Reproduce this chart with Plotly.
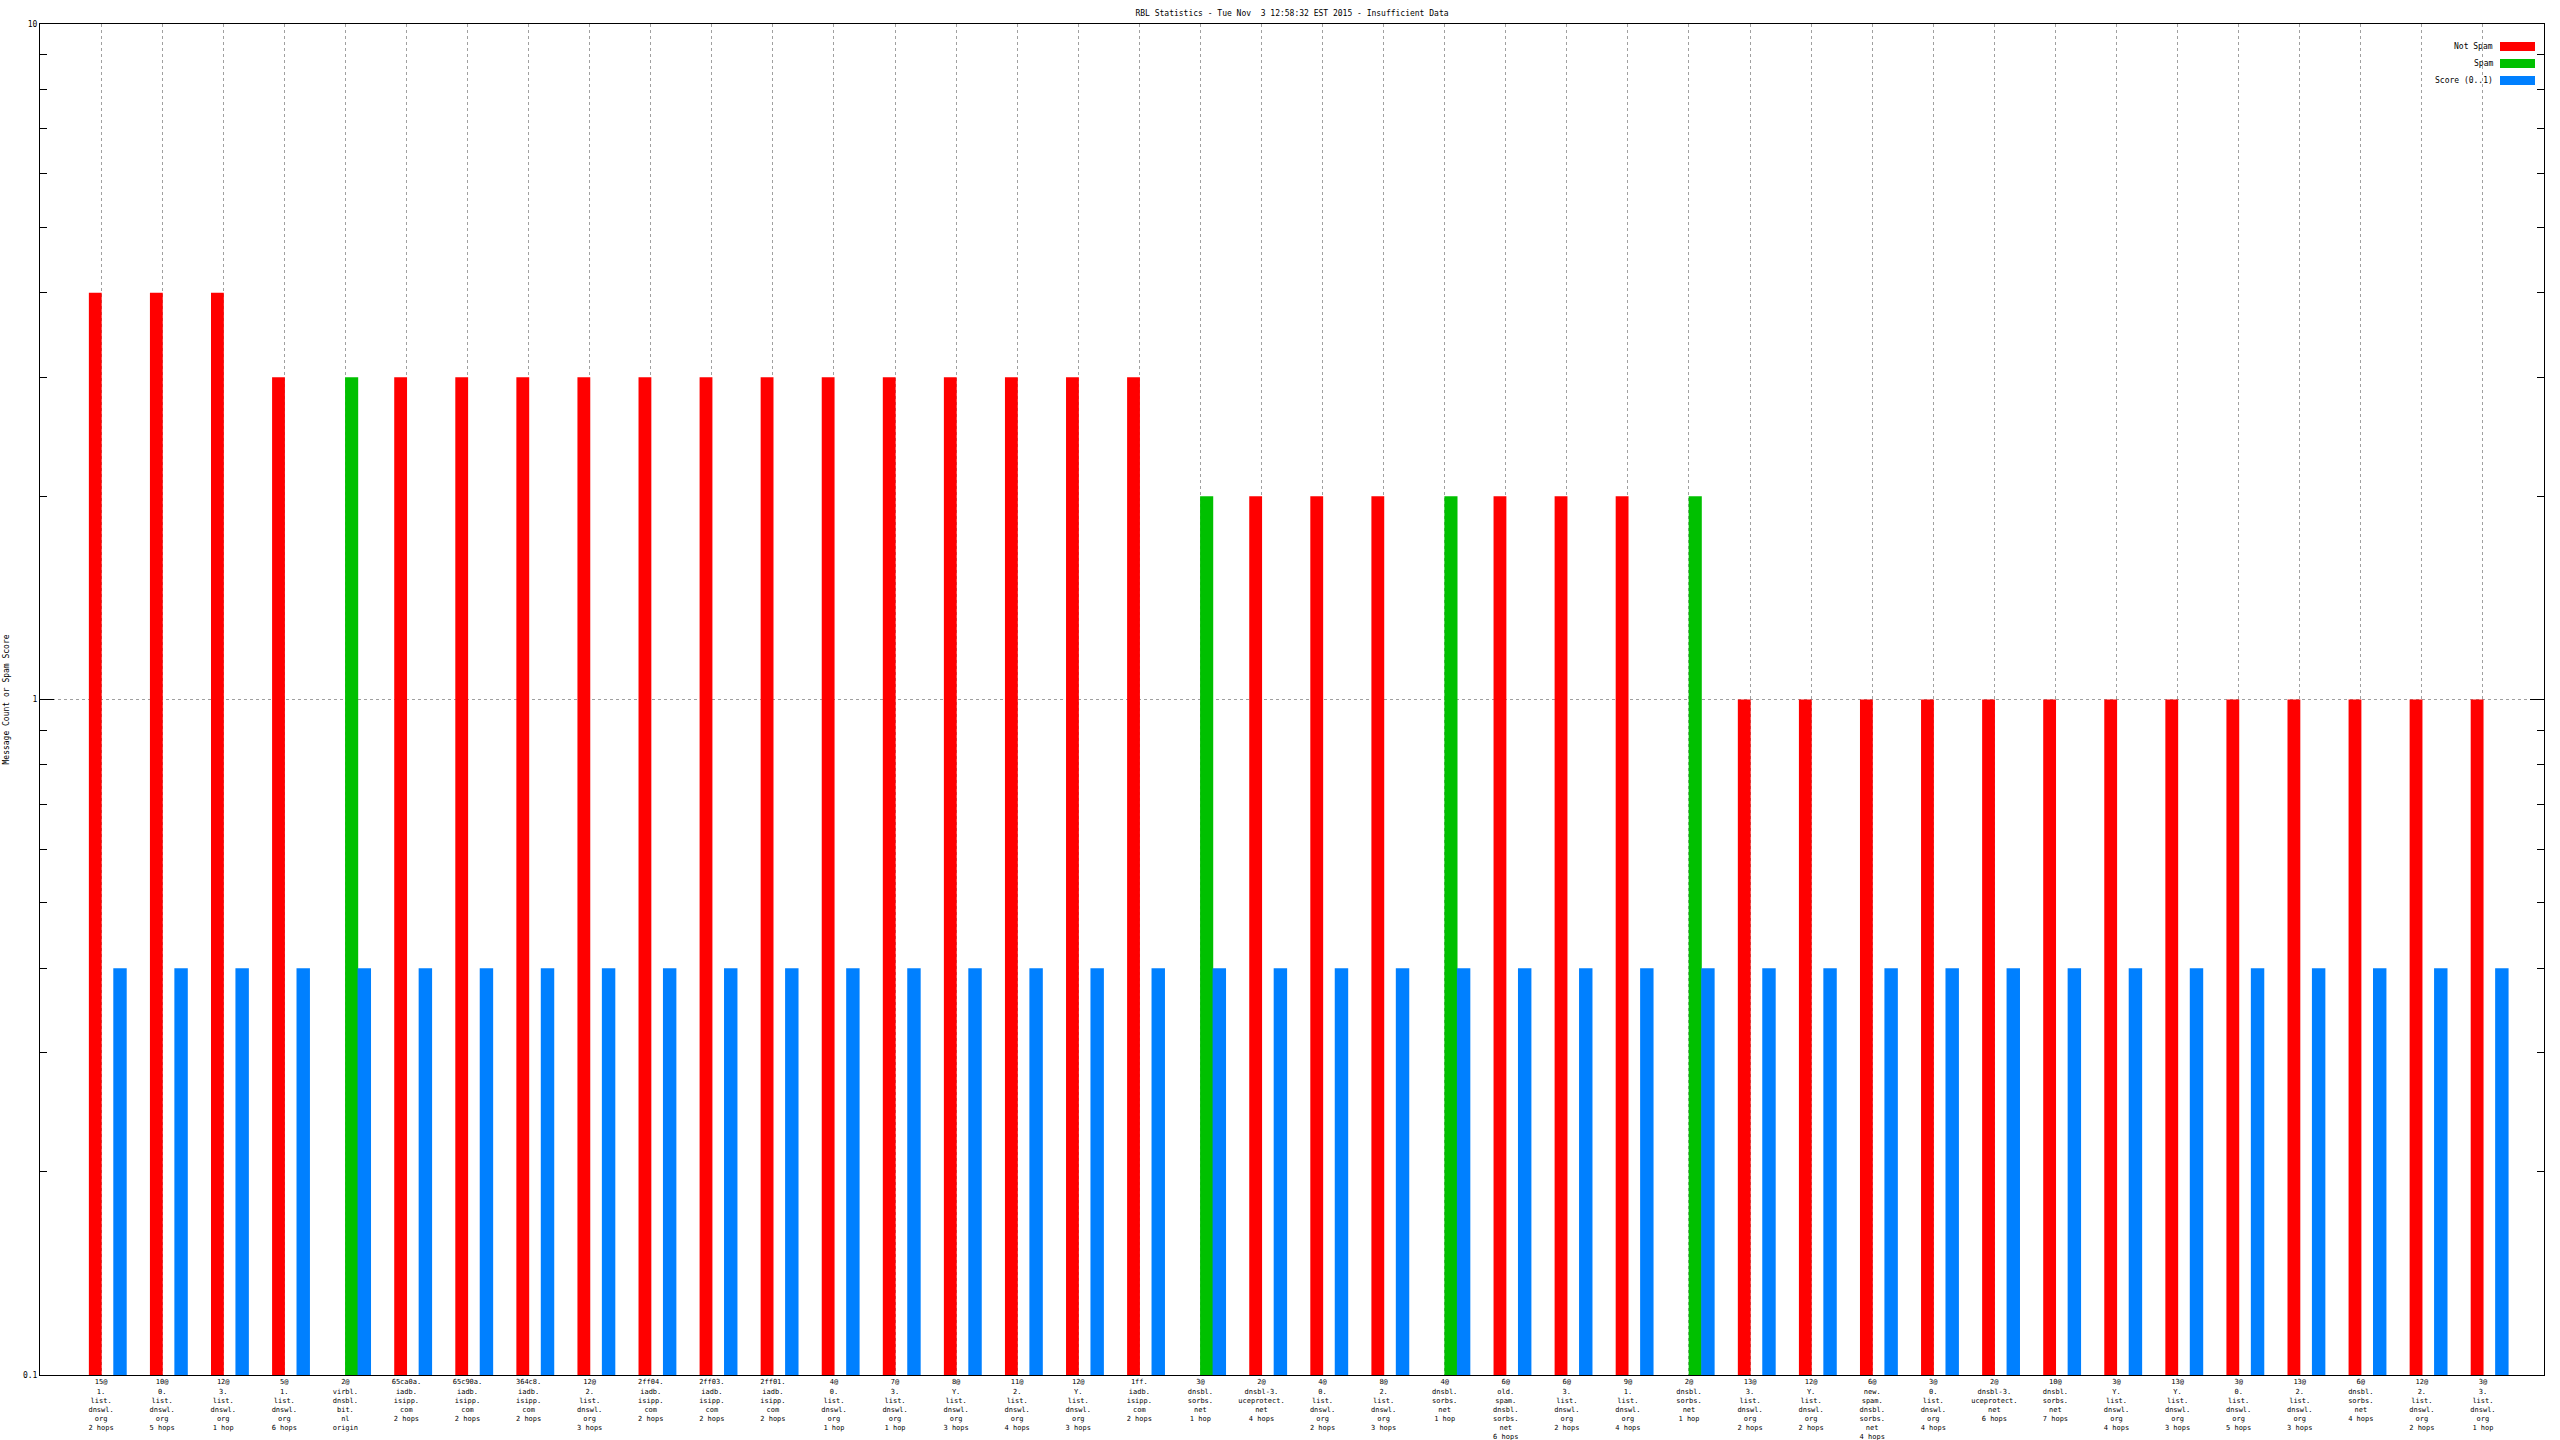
import plotly.graph_objects as go

# ---------------- data ----------------
categories = [
    "15@<br>1.<br>list.<br>dnswl.<br>org<br>2 hops",
    "10@<br>0.<br>list.<br>dnswl.<br>org<br>5 hops",
    "12@<br>3.<br>list.<br>dnswl.<br>org<br>1 hop",
    "5@<br>1.<br>list.<br>dnswl.<br>org<br>6 hops",
    "2@<br>virbl.<br>dnsbl.<br>bit.<br>nl<br>origin",
    "65ca0a.<br>iadb.<br>isipp.<br>com<br>2 hops",
    "65c90a.<br>iadb.<br>isipp.<br>com<br>2 hops",
    "364c8.<br>iadb.<br>isipp.<br>com<br>2 hops",
    "12@<br>2.<br>list.<br>dnswl.<br>org<br>3 hops",
    "2ff04.<br>iadb.<br>isipp.<br>com<br>2 hops",
    "2ff03.<br>iadb.<br>isipp.<br>com<br>2 hops",
    "2ff01.<br>iadb.<br>isipp.<br>com<br>2 hops",
    "4@<br>0.<br>list.<br>dnswl.<br>org<br>1 hop",
    "7@<br>3.<br>list.<br>dnswl.<br>org<br>1 hop",
    "8@<br>Y.<br>list.<br>dnswl.<br>org<br>3 hops",
    "11@<br>2.<br>list.<br>dnswl.<br>org<br>4 hops",
    "12@<br>Y.<br>list.<br>dnswl.<br>org<br>3 hops",
    "1ff.<br>iadb.<br>isipp.<br>com<br>2 hops",
    "3@<br>dnsbl.<br>sorbs.<br>net<br>1 hop",
    "2@<br>dnsbl-3.<br>uceprotect.<br>net<br>4 hops",
    "4@<br>0.<br>list.<br>dnswl.<br>org<br>2 hops",
    "8@<br>2.<br>list.<br>dnswl.<br>org<br>3 hops",
    "4@<br>dnsbl.<br>sorbs.<br>net<br>1 hop",
    "6@<br>old.<br>spam.<br>dnsbl.<br>sorbs.<br>net<br>6 hops",
    "6@<br>3.<br>list.<br>dnswl.<br>org<br>2 hops",
    "9@<br>1.<br>list.<br>dnswl.<br>org<br>4 hops",
    "2@<br>dnsbl.<br>sorbs.<br>net<br>1 hop",
    "13@<br>3.<br>list.<br>dnswl.<br>org<br>2 hops",
    "12@<br>Y.<br>list.<br>dnswl.<br>org<br>2 hops",
    "6@<br>new.<br>spam.<br>dnsbl.<br>sorbs.<br>net<br>4 hops",
    "3@<br>0.<br>list.<br>dnswl.<br>org<br>4 hops",
    "2@<br>dnsbl-3.<br>uceprotect.<br>net<br>6 hops",
    "10@<br>dnsbl.<br>sorbs.<br>net<br>7 hops",
    "3@<br>Y.<br>list.<br>dnswl.<br>org<br>4 hops",
    "13@<br>Y.<br>list.<br>dnswl.<br>org<br>3 hops",
    "3@<br>0.<br>list.<br>dnswl.<br>org<br>5 hops",
    "13@<br>2.<br>list.<br>dnswl.<br>org<br>3 hops",
    "6@<br>dnsbl.<br>sorbs.<br>net<br>4 hops",
    "12@<br>2.<br>list.<br>dnswl.<br>org<br>2 hops",
    "3@<br>3.<br>list.<br>dnswl.<br>org<br>1 hop",
]

not_spam = [4, 4, 4, 3, None, 3, 3, 3, 3, 3, 3, 3, 3, 3, 3, 3, 3, 3, None, 2,
            2, 2, None, 2, 2, 2, None, 1, 1, 1, 1, 1, 1, 1, 1, 1, 1, 1, 1, 1]
spam = [None, None, None, None, 3, None, None, None, None, None,
        None, None, None, None, None, None, None, None, 2, None,
        None, None, 2, None, None, None, 2, None, None, None,
        None, None, None, None, None, None, None, None, None, None]
score = [0.4] * 40

series_names = ["Not Spam", "Spam", "Score (0..1)"]
series_colors = ["#ff0000", "#00c000", "#0080ff"]

y_tick_vals = [0.1, 1, 10]
y_tick_text = ["0.1", "1", "10"]

title_text = "RBL Statistics - Tue Nov  3 12:58:32 EST 2015 - Insufficient Data"
y_title = "Message Count or Spam Score"

# ---------------- layout geometry ----------------
W, H = 2560, 1440
L, R, T, B = 40, 16, 24, 65
PW, PH = W - L - R, H - T - B
FONT = "DejaVu Sans Mono"


def px_x(px):
    return (px - L) / PW


def px_y(py):
    return 1 - (py - T) / PH


positions = list(range(1, len(categories) + 1))

fig = go.Figure()
series = [not_spam, spam, score]
offsets = [-0.2, -0.005, 0.2]
widths = [0.21, 0.215, 0.22]
for name, vals, col, off, wd in zip(series_names, series, series_colors, offsets, widths):
    fig.add_trace(go.Bar(
        x=positions, y=vals, name=name, width=wd, offset=off,
        marker=dict(color=col, line=dict(width=0)),
        showlegend=False,
    ))

grid_col = "#a0a0a0"

fig.update_layout(
    width=W, height=H,
    margin=dict(l=L, r=R, t=T, b=B, pad=0, autoexpand=False),
    paper_bgcolor="white", plot_bgcolor="white",
    barmode="overlay",
    font=dict(family=FONT, size=8, color="black"),
    title=dict(text=title_text, x=px_x(1292), xref="paper", xanchor="center",
               y=1 - 13 / H, yref="container", yanchor="middle",
               font=dict(family=FONT, size=8, color="black")),
    xaxis=dict(
        range=[0, len(categories) + 1], automargin=False,
        tickmode="array", tickvals=positions, ticktext=categories,
        ticks="", showline=True, linecolor="black", linewidth=1,
        mirror=True, zeroline=False,
        showgrid=True, gridcolor=grid_col, gridwidth=1, griddash="3px,3px",
        tickfont=dict(family=FONT, size=7, color="black"),
        tickangle=0, ticklabelstandoff=0,
    ),
    xaxis2=dict(
        overlaying="x", side="top", anchor="y", automargin=False,
        range=[0, len(categories) + 1],
        tickmode="array", tickvals=positions,
        ticks="inside", ticklen=14, tickwidth=1, tickcolor="black",
        showticklabels=False, showgrid=False, zeroline=False, showline=False,
    ),
    yaxis=dict(
        type="log", range=[-1, 1], automargin=False,
        tickmode="array", tickvals=y_tick_vals, ticktext=y_tick_text,
        ticks="inside", ticklen=14, tickwidth=1, tickcolor="black",
        showline=True, linecolor="black", linewidth=1, mirror="allticks",
        showgrid=True, gridcolor=grid_col, gridwidth=1, griddash="3px,3px",
        zeroline=False,
        tickfont=dict(family=FONT, size=8, color="black"),
        minor=dict(ticks="inside", ticklen=7, tickwidth=1, tickcolor="black",
                   dtick="D1", showgrid=False),
    ),
)

# y-axis title
fig.add_annotation(text=y_title, xref="paper", yref="paper",
                   x=px_x(6), y=0.5, textangle=-90, showarrow=False,
                   xanchor="center", yanchor="middle",
                   font=dict(family=FONT, size=8, color="black"))

# key (text to the left of the colour swatch)
row_centres = [46.5, 63.5, 80.5]
for name, col, cy in zip(series_names, series_colors, row_centres):
    fig.add_shape(type="rect", xref="paper", yref="paper",
                  x0=px_x(2500), x1=px_x(2535),
                  y0=px_y(cy - 4.5), y1=px_y(cy + 4.5),
                  fillcolor=col, line=dict(width=0), layer="above")
    fig.add_annotation(text=name, xref="paper", yref="paper",
                       x=px_x(2495), y=px_y(cy), showarrow=False,
                       xanchor="right", yanchor="middle",
                       font=dict(family=FONT, size=8, color="black"))

fig.write_html("out.html", config={"displayModeBar": False},
               post_script="document.body.style.margin='0';document.body.style.overflow='hidden';")
